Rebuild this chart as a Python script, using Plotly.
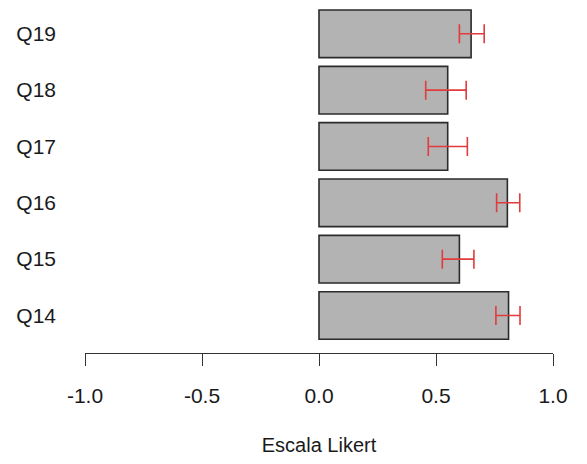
import plotly.graph_objects as go

# Likert item means with their confidence interval bounds
items = ["Q14", "Q15", "Q16", "Q17", "Q18", "Q19"]
means = [0.81, 0.60, 0.805, 0.55, 0.55, 0.65]
ci_low = [0.756, 0.527, 0.759, 0.467, 0.456, 0.600]
ci_high = [0.859, 0.662, 0.858, 0.634, 0.629, 0.706]

x_ticks = [-1.0, -0.5, 0.0, 0.5, 1.0]
x_tick_text = ["-1.0", "-0.5", "0.0", "0.5", "1.0"]

err_plus = [h - m for h, m in zip(ci_high, means)]
err_minus = [m - l for m, l in zip(means, ci_low)]

font_family = "Liberation Sans, Arial, sans-serif"
text_color = "#1a1a1a"

fig = go.Figure(
    go.Bar(
        x=means,
        y=items,
        orientation="h",
        marker=dict(color="#b3b3b3", line=dict(color="#2b2b2b", width=1.6)),
        error_x=dict(
            type="data",
            symmetric=False,
            array=err_plus,
            arrayminus=err_minus,
            color="#e23b3b",
            thickness=1.6,
            width=9.5,
        ),
    )
)

fig.update_layout(
    width=587,
    height=464,
    margin=dict(l=85, r=34, t=0, b=111),
    plot_bgcolor="white",
    paper_bgcolor="white",
    bargap=0.155,
    showlegend=False,
    font=dict(family=font_family, size=21, color=text_color),
)

fig.update_xaxes(
    range=[-1.0, 1.0],
    tickvals=x_ticks,
    ticktext=x_tick_text,
    showgrid=False,
    zeroline=False,
    showline=True,
    linecolor="#333333",
    linewidth=1.4,
    ticks="outside",
    ticklen=12,
    tickwidth=1.4,
    tickcolor="#333333",
    ticklabelstandoff=12,
    title=dict(text="Escala Likert", standoff=31, font=dict(size=20)),
)

fig.update_yaxes(
    range=[-0.666, 5.6],
    showgrid=False,
    zeroline=False,
    showline=False,
    ticks="",
    ticklabelstandoff=28,
)

fig.write_html("out.html")
